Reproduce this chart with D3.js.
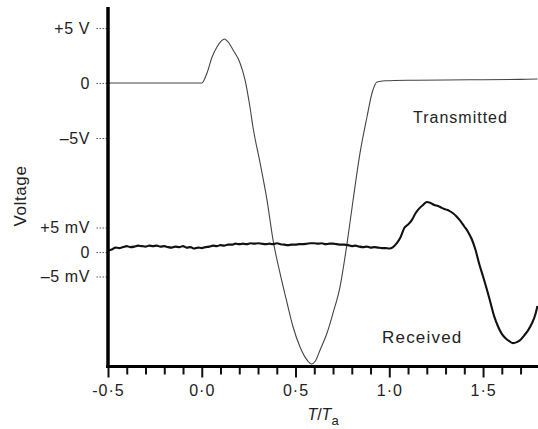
<!DOCTYPE html>
<html>
<head>
<meta charset="utf-8">
<script src="https://cdn.jsdelivr.net/npm/d3@7/dist/d3.min.js"></script>
<style>
  html, body { margin: 0; padding: 0; background: #fff; }
  svg { display: block; }
  text { font-family: "Liberation Sans", Arial, sans-serif; fill: #222; }
</style>
</head>
<body>
<svg id="chart" width="538" height="429"></svg>
<script>
// Time axis (T / Ta) ticks
const xMajorTicks = [-0.5, 0, 0.5, 1.0, 1.5];
const xMajorLabels = ["-0·5", "0·0", "0·5", "1·0", "1·5"];
const xMinorTicks = [-0.4, -0.3, -0.2, -0.1, 0.1, 0.2, 0.3, 0.4, 0.6, 0.7, 0.8, 0.9, 1.1, 1.2, 1.3, 1.4, 1.6, 1.7];

// Voltage ticks: volts for the transmitted trace, millivolts for the received one
const voltTicks = [5, 0, -5];
const voltLabels = ["+5 V", "0", "–5V"];
const milliTicks = [5, 0, -5];
const milliLabels = ["+5 mV", "0", "–5 mV"];

// Transmitted pulse (V)
const txTime = [-0.5, 0.0, 0.028, 0.055, 0.081, 0.106, 0.121, 0.137, 0.167, 0.204, 0.231, 0.257, 0.273, 0.311, 0.348, 0.380, 0.417, 0.455, 0.487, 0.524, 0.567, 0.585, 0.605, 0.631, 0.668, 0.700, 0.737, 0.775, 0.807, 0.844, 0.881, 0.908, 0.935, 0.977, 1.1, 1.3, 1.5, 1.7, 1.79];
const txVolt = [0, 0, 0.91, 2.36, 3.27, 3.85, 4.0, 3.8, 3.0, 1.82, 0.27, -2.18, -4.0, -7.27, -10.64, -14.27, -17.27, -20.0, -22.18, -24.0, -25.3, -25.55, -25.3, -24.27, -22.73, -20.91, -18.55, -14.55, -10.64, -6.36, -3.09, -0.91, 0.09, 0.2, 0.25, 0.27, 0.3, 0.33, 0.36];

// Received signal (mV)
const rxTime = [
  -0.50, -0.48, -0.46, -0.44, -0.42, -0.40, -0.38, -0.36, -0.34, -0.32,
  -0.30, -0.28, -0.26, -0.24, -0.22, -0.20, -0.18, -0.16, -0.14, -0.12,
  -0.10, -0.08, -0.06, -0.04, -0.02, 0.00, 0.02, 0.04, 0.06, 0.08,
  0.10, 0.12, 0.14, 0.16, 0.18, 0.20, 0.22, 0.24, 0.26, 0.28,
  0.30, 0.32, 0.34, 0.36, 0.38, 0.40, 0.42, 0.44, 0.46, 0.48,
  0.50, 0.52, 0.54, 0.56, 0.58, 0.60, 0.62, 0.64, 0.66, 0.68,
  0.70, 0.72, 0.74, 0.76, 0.78, 0.80, 0.82, 0.84, 0.86, 0.88,
  0.90, 0.92, 0.94, 0.96, 0.98, 1.00, 1.02, 1.04, 1.06, 1.08,
  1.10, 1.12, 1.14, 1.16, 1.18, 1.20, 1.22, 1.24, 1.26, 1.28,
  1.30, 1.32, 1.34, 1.36, 1.38, 1.40, 1.42, 1.44, 1.46, 1.48,
  1.50, 1.52, 1.54, 1.56, 1.58, 1.60, 1.62, 1.64, 1.66, 1.68,
  1.70, 1.72, 1.74, 1.76, 1.78, 1.79
];
const rxMilli = [
  0.3, 0.5, 0.9, 0.8, 1.0, 1.2, 1.0, 1.1, 1.3, 1.2,
  1.1, 1.3, 1.2, 1.3, 1.1, 1.2, 1.0, 0.9, 1.1, 1.0,
  1.2, 0.9, 1.0, 0.7, 0.9, 0.8, 1.0, 1.1, 1.3, 1.2,
  1.4, 1.3, 1.5, 1.5, 1.7, 1.6, 1.7, 1.6, 1.8, 1.7,
  1.8, 1.7, 1.6, 1.7, 1.6, 1.8, 1.6, 1.5, 1.4, 1.5,
  1.5, 1.6, 1.6, 1.7, 1.8, 1.8, 1.7, 1.8, 1.6, 1.7,
  1.7, 1.6, 1.5, 1.5, 1.4, 1.2, 1.3, 1.1, 1.0, 1.1,
  0.9, 1.0, 0.9, 0.8, 0.8, 0.7, 1.0, 1.8, 3.0, 4.9,
  5.6, 6.5, 7.9, 8.9, 9.6, 10.2, 10.0, 9.6, 9.4, 9.0,
  8.7, 8.4, 7.9, 7.2, 6.3, 5.2, 4.1, 2.6, 0.4, -2.5,
  -5.0, -7.6, -10.4, -13.2, -15.2, -16.7, -17.6, -18.2, -18.6, -18.4,
  -17.9, -17.0, -16.0, -14.6, -12.6, -11.0
];

const svg = d3.select("#chart");

const x = d3.scaleLinear().domain([-0.5, 1.793]).range([108, 538]);
const yVolt = d3.scaleLinear().domain([-5, 5]).range([138, 28]);
const yMilli = d3.scaleLinear().domain([-5, 5]).range([276.5, 227.5]);
const baseY = 366.5;

svg.append("defs").append("clipPath").attr("id", "plot")
  .append("rect").attr("x", 108).attr("y", 0).attr("width", 430).attr("height", baseY);

// Traces
const txLine = d3.line().x((d, i) => x(txTime[i])).y(d => yVolt(d)).curve(d3.curveMonotoneX);
svg.append("path")
  .attr("clip-path", "url(#plot)")
  .attr("d", txLine(txVolt))
  .attr("fill", "none")
  .attr("stroke", "#444")
  .attr("stroke-width", 1.1);

const rxLine = d3.line().x((d, i) => x(rxTime[i])).y(d => yMilli(d)).curve(d3.curveMonotoneX);
svg.append("path")
  .attr("clip-path", "url(#plot)")
  .attr("d", rxLine(rxMilli))
  .attr("fill", "none")
  .attr("stroke", "#111")
  .attr("stroke-width", 2.1)
  .attr("stroke-linejoin", "round");

// Bottom axis: major ticks with labels, minor ticks without
const xAxisMajor = d3.axisBottom(x)
  .tickValues(xMajorTicks)
  .tickFormat((d, i) => xMajorLabels[i])
  .tickSize(11).tickPadding(7);
const gx = svg.append("g").attr("transform", `translate(0,${baseY})`).call(xAxisMajor);
gx.select(".domain").remove();
gx.selectAll(".tick line").attr("stroke", "#111").attr("stroke-width", 2);
gx.selectAll(".tick text")
  .attr("font-size", 16).attr("letter-spacing", 1)
  .attr("fill", "#222").attr("font-family", "Liberation Sans, Arial, sans-serif");

const xAxisMinor = d3.axisBottom(x).tickValues(xMinorTicks).tickFormat("").tickSize(8);
const gxm = svg.append("g").attr("transform", `translate(0,${baseY})`).call(xAxisMinor);
gxm.select(".domain").remove();
gxm.selectAll(".tick line").attr("stroke", "#111").attr("stroke-width", 2);

// Left axis labels with short dotted ticks
function leftAxis(scale, ticks, labels) {
  const ax = d3.axisLeft(scale)
    .tickValues(ticks)
    .tickFormat((d, i) => labels[i])
    .tickSize(12).tickPadding(5);
  const g = svg.append("g").attr("transform", "translate(107,0)").call(ax);
  g.select(".domain").remove();
  g.selectAll(".tick line").attr("stroke", "#555").attr("stroke-width", 1).attr("stroke-dasharray", "1.5,1.5");
  g.selectAll(".tick text")
    .attr("font-size", 16).attr("letter-spacing", 0.6)
    .attr("fill", "#222").attr("font-family", "Liberation Sans, Arial, sans-serif");
}
leftAxis(yVolt, voltTicks, voltLabels);
leftAxis(yMilli, milliTicks, milliLabels);

// Axis lines
svg.append("line").attr("x1", 108).attr("x2", 108).attr("y1", 7).attr("y2", baseY + 1.5)
  .attr("stroke", "#000").attr("stroke-width", 3.5);
svg.append("line").attr("x1", 106).attr("x2", 538).attr("y1", baseY).attr("y2", baseY)
  .attr("stroke", "#000").attr("stroke-width", 3);

// Axis titles
const xt = svg.append("text").attr("x", 323).attr("y", 420).attr("text-anchor", "middle").attr("font-size", 16);
xt.append("tspan").attr("font-style", "italic").text("T");
xt.append("tspan").text("/");
xt.append("tspan").attr("font-style", "italic").text("T");
xt.append("tspan").attr("font-size", 13).attr("dy", 5).text("a");

svg.append("text")
  .attr("transform", "translate(26,196) rotate(-90)")
  .attr("text-anchor", "middle")
  .attr("font-size", 17).attr("letter-spacing", 0.6)
  .text("Voltage");

// Trace labels
svg.append("text").attr("x", 413).attr("y", 123).attr("font-size", 16).attr("letter-spacing", 1).text("Transmitted");
svg.append("text").attr("x", 382).attr("y", 343).attr("font-size", 17).attr("letter-spacing", 1.2).text("Received");
</script>
</body>
</html>
